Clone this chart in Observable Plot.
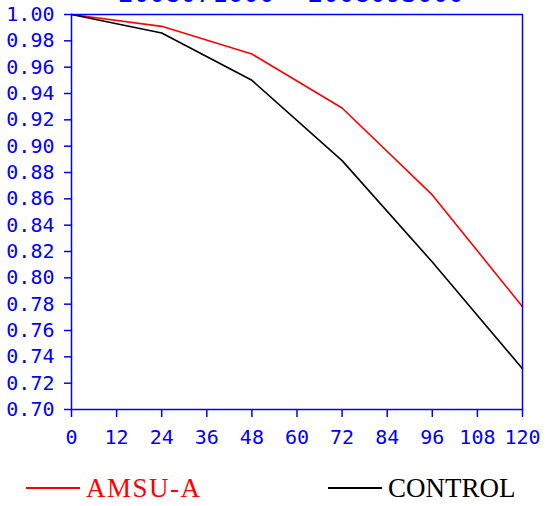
<!DOCTYPE html>
<html>
<head>
<meta charset="utf-8">
<script src="https://cdn.jsdelivr.net/npm/d3@7"></script>
<script src="https://cdn.jsdelivr.net/npm/@observablehq/plot@0.6"></script>
<style>
  html, body { margin: 0; padding: 0; background: #fff; overflow: hidden; }
  #wrap { position: relative; width: 546px; height: 506px; }
  #title { position: absolute; top: -22px; font: 26px/30px "DejaVu Sans Mono", monospace; color: blue; white-space: pre; word-spacing: -7px; }
  .leg { position: absolute; font-family: "Liberation Serif", serif; font-size: 27px; line-height: 1; white-space: nowrap; }
  .legline { position: absolute; height: 1.6px; }
</style>
</head>
<body>
<div id="wrap">
  <div id="chart"></div>
</div>
<script>
const hours = [0, 24, 48, 72, 96, 120];
const amsuA = [1.000, 0.991, 0.970, 0.929, 0.863, 0.778];
const control = [1.000, 0.986, 0.950, 0.889, 0.812, 0.731];
const seriesNames = ["AMSU-A", "CONTROL"];
const seriesColors = ["red", "black"];
const xTicks = [0, 12, 24, 36, 48, 60, 72, 84, 96, 108, 120];
const yTicks = [0.70, 0.72, 0.74, 0.76, 0.78, 0.80, 0.82, 0.84, 0.86, 0.88, 0.90, 0.92, 0.94, 0.96, 0.98, 1.00];
const titleText = "2008071600 - 2008093000";

const rows = [];
[amsuA, control].forEach((vals, s) => {
  hours.forEach((h, i) => rows.push({series: seriesNames[s], h, v: vals[i]}));
});

const chart = Plot.plot({
  width: 546,
  height: 465,
  marginLeft: 71,
  marginRight: 24,
  marginTop: 14,
  marginBottom: 56,
  style: {color: "blue", fontFamily: "'DejaVu Sans Mono', monospace", fontSize: "20px", background: "white"},
  x: {domain: [0, 120]},
  y: {domain: [0.70, 1.00]},
  color: {domain: seriesNames, range: seriesColors},
  marks: [
    Plot.line(rows, {x: "h", y: "v", z: "series", stroke: "series", strokeWidth: 1.6}),
    Plot.frame({stroke: "blue", strokeWidth: 1.5}),
    Plot.axisX({ticks: xTicks, tickSize: 8, tickPadding: 12, tickFormat: d => String(d), stroke: "blue", strokeWidth: 1.5, fill: "blue", fontSize: 20, label: null}),
    Plot.axisY({ticks: yTicks, tickSize: 7, tickPadding: 10, tickFormat: d => d.toFixed(2), stroke: "blue", strokeWidth: 1.5, fill: "blue", fontSize: 20, label: null})
  ]
});
const wrap = document.getElementById("wrap");
document.getElementById("chart").appendChild(chart);

const title = document.createElement("div");
title.id = "title";
title.textContent = titleText;
title.style.left = "118px";
wrap.appendChild(title);

const legPos = [{lx: 26, tx: 86}, {lx: 328, tx: 388}];
seriesNames.forEach((name, i) => {
  const ln = document.createElement("div");
  ln.className = "legline";
  ln.style.left = legPos[i].lx + "px";
  ln.style.width = "54px";
  ln.style.top = "487px";
  ln.style.background = seriesColors[i];
  wrap.appendChild(ln);
  const t = document.createElement("div");
  t.className = "leg";
  t.textContent = name;
  t.style.left = legPos[i].tx + "px";
  t.style.top = "475px";
  t.style.color = seriesColors[i];
  if (i === 0) t.style.letterSpacing = "1.5px";
  wrap.appendChild(t);
});
</script>
</body>
</html>
